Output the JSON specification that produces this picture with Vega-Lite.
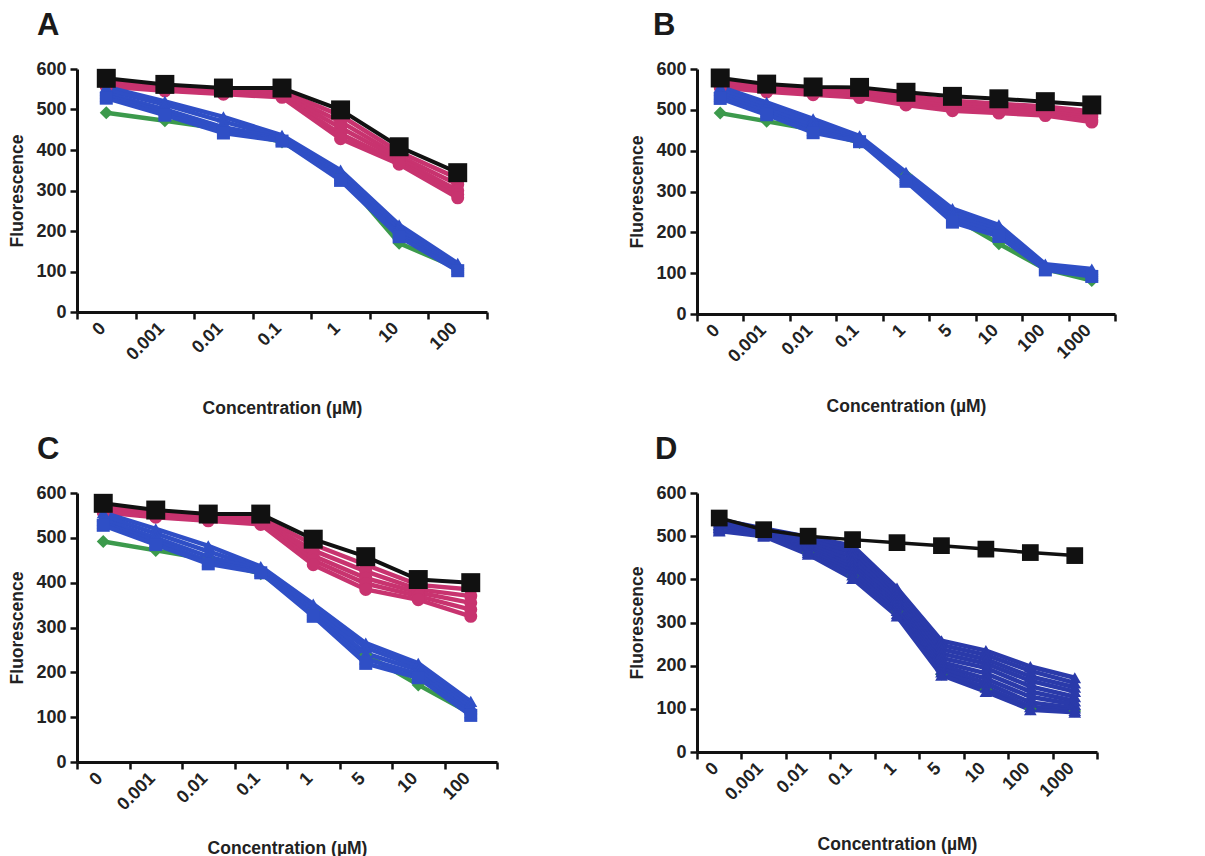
{
  "$schema": "https://vega.github.io/schema/vega-lite/v6.json",
  "padding": {"left": 8, "top": 10, "right": 5, "bottom": 0},
  "background": "white",
  "columns": 2,
  "bounds": "flush",
  "align": "each",
  "spacing": {"row": 179, "column": 200},
  "resolve": {"scale": {"x": "independent", "y": "independent"}},
  "config": {
    "view": {"stroke": null},
    "font": "Liberation Sans",
    "axis": {
      "grid": false,
      "domainColor": "#111111",
      "domainWidth": 3,
      "tickColor": "#111111",
      "tickWidth": 2.5,
      "tickSize": 7,
      "labelFont": "Liberation Sans",
      "labelFontWeight": "bold",
      "labelFontSize": 18,
      "labelColor": "#222222",
      "titleFont": "Liberation Sans",
      "titleFontWeight": "bold",
      "titleFontSize": 17.5,
      "titleColor": "#222222"
    },
    "axisY": {"titlePadding": 9, "labelPadding": 4},
    "axisX": {"labelPadding": 0, "labelOffset": -10},
    "title": {"font": "Liberation Sans", "fontSize": 31, "fontWeight": "bold", "color": "#1a1a1a", "anchor": "start", "frame": "group", "offset": 18}
  },
  "datasets": {
    "A": [
      {"c":"0","s":"P1","grp":"p","v":570},{"c":"0.001","s":"P1","grp":"p","v":555},{"c":"0.01","s":"P1","grp":"p","v":548},{"c":"0.1","s":"P1","grp":"p","v":545},{"c":"1","s":"P1","grp":"p","v":485},{"c":"10","s":"P1","grp":"p","v":395},{"c":"100","s":"P1","grp":"p","v":330},
      {"c":"0","s":"P2","grp":"p","v":566},{"c":"0.001","s":"P2","grp":"p","v":552},{"c":"0.01","s":"P2","grp":"p","v":545},{"c":"0.1","s":"P2","grp":"p","v":540},{"c":"1","s":"P2","grp":"p","v":470},{"c":"10","s":"P2","grp":"p","v":385},{"c":"100","s":"P2","grp":"p","v":315},
      {"c":"0","s":"P3","grp":"p","v":563},{"c":"0.001","s":"P3","grp":"p","v":550},{"c":"0.01","s":"P3","grp":"p","v":542},{"c":"0.1","s":"P3","grp":"p","v":537},{"c":"1","s":"P3","grp":"p","v":455},{"c":"10","s":"P3","grp":"p","v":378},{"c":"100","s":"P3","grp":"p","v":300},
      {"c":"0","s":"P4","grp":"p","v":560},{"c":"0.001","s":"P4","grp":"p","v":548},{"c":"0.01","s":"P4","grp":"p","v":540},{"c":"0.1","s":"P4","grp":"p","v":533},{"c":"1","s":"P4","grp":"p","v":440},{"c":"10","s":"P4","grp":"p","v":370},{"c":"100","s":"P4","grp":"p","v":290},
      {"c":"0","s":"P5","grp":"p","v":557},{"c":"0.001","s":"P5","grp":"p","v":546},{"c":"0.01","s":"P5","grp":"p","v":538},{"c":"0.1","s":"P5","grp":"p","v":530},{"c":"1","s":"P5","grp":"p","v":428},{"c":"10","s":"P5","grp":"p","v":365},{"c":"100","s":"P5","grp":"p","v":282},
      {"c":"0","s":"G1","grp":"g","v":492},{"c":"0.001","s":"G1","grp":"g","v":472},{"c":"0.01","s":"G1","grp":"g","v":452},{"c":"0.1","s":"G1","grp":"g","v":420},{"c":"1","s":"G1","grp":"g","v":338},{"c":"10","s":"G1","grp":"g","v":170},{"c":"100","s":"G1","grp":"g","v":108},
      {"c":"0","s":"B1","grp":"b","v":556},{"c":"0.001","s":"B1","grp":"b","v":520},{"c":"0.01","s":"B1","grp":"b","v":482},{"c":"0.1","s":"B1","grp":"b","v":436},{"c":"1","s":"B1","grp":"b","v":350},{"c":"10","s":"B1","grp":"b","v":215},{"c":"100","s":"B1","grp":"b","v":120},
      {"c":"0","s":"B2","grp":"b","v":548},{"c":"0.001","s":"B2","grp":"b","v":512},{"c":"0.01","s":"B2","grp":"b","v":470},{"c":"0.1","s":"B2","grp":"b","v":432},{"c":"1","s":"B2","grp":"b","v":345},{"c":"10","s":"B2","grp":"b","v":210},{"c":"100","s":"B2","grp":"b","v":116},
      {"c":"0","s":"B3","grp":"b","v":540},{"c":"0.001","s":"B3","grp":"b","v":500},{"c":"0.01","s":"B3","grp":"b","v":456},{"c":"0.1","s":"B3","grp":"b","v":428},{"c":"1","s":"B3","grp":"b","v":338},{"c":"10","s":"B3","grp":"b","v":200},{"c":"100","s":"B3","grp":"b","v":112},
      {"c":"0","s":"B4","grp":"b","v":534},{"c":"0.001","s":"B4","grp":"b","v":492},{"c":"0.01","s":"B4","grp":"b","v":448},{"c":"0.1","s":"B4","grp":"b","v":425},{"c":"1","s":"B4","grp":"b","v":330},{"c":"10","s":"B4","grp":"b","v":192},{"c":"100","s":"B4","grp":"b","v":106},
      {"c":"0","s":"S1","grp":"bs","v":528},{"c":"0.001","s":"S1","grp":"bs","v":486},{"c":"0.01","s":"S1","grp":"bs","v":442},{"c":"0.1","s":"S1","grp":"bs","v":422},{"c":"1","s":"S1","grp":"bs","v":325},{"c":"10","s":"S1","grp":"bs","v":186},{"c":"100","s":"S1","grp":"bs","v":102},
      {"c":"0","s":"K","grp":"ctrl","v":577},{"c":"0.001","s":"K","grp":"ctrl","v":562},{"c":"0.01","s":"K","grp":"ctrl","v":553},{"c":"0.1","s":"K","grp":"ctrl","v":553},{"c":"1","s":"K","grp":"ctrl","v":499},{"c":"10","s":"K","grp":"ctrl","v":408},{"c":"100","s":"K","grp":"ctrl","v":344}
    ],
    "B": [
      {"c":"0","s":"P1","grp":"p","v":570},{"c":"0.001","s":"P1","grp":"p","v":556},{"c":"0.01","s":"P1","grp":"p","v":550},{"c":"0.1","s":"P1","grp":"p","v":548},{"c":"1","s":"P1","grp":"p","v":535},{"c":"5","s":"P1","grp":"p","v":522},{"c":"10","s":"P1","grp":"p","v":515},{"c":"100","s":"P1","grp":"p","v":508},{"c":"1000","s":"P1","grp":"p","v":496},
      {"c":"0","s":"P2","grp":"p","v":566},{"c":"0.001","s":"P2","grp":"p","v":552},{"c":"0.01","s":"P2","grp":"p","v":546},{"c":"0.1","s":"P2","grp":"p","v":543},{"c":"1","s":"P2","grp":"p","v":528},{"c":"5","s":"P2","grp":"p","v":515},{"c":"10","s":"P2","grp":"p","v":508},{"c":"100","s":"P2","grp":"p","v":500},{"c":"1000","s":"P2","grp":"p","v":488},
      {"c":"0","s":"P3","grp":"p","v":562},{"c":"0.001","s":"P3","grp":"p","v":549},{"c":"0.01","s":"P3","grp":"p","v":543},{"c":"0.1","s":"P3","grp":"p","v":538},{"c":"1","s":"P3","grp":"p","v":522},{"c":"5","s":"P3","grp":"p","v":508},{"c":"10","s":"P3","grp":"p","v":502},{"c":"100","s":"P3","grp":"p","v":495},{"c":"1000","s":"P3","grp":"p","v":482},
      {"c":"0","s":"P4","grp":"p","v":558},{"c":"0.001","s":"P4","grp":"p","v":546},{"c":"0.01","s":"P4","grp":"p","v":540},{"c":"0.1","s":"P4","grp":"p","v":533},{"c":"1","s":"P4","grp":"p","v":516},{"c":"5","s":"P4","grp":"p","v":502},{"c":"10","s":"P4","grp":"p","v":496},{"c":"100","s":"P4","grp":"p","v":490},{"c":"1000","s":"P4","grp":"p","v":476},
      {"c":"0","s":"P5","grp":"p","v":555},{"c":"0.001","s":"P5","grp":"p","v":544},{"c":"0.01","s":"P5","grp":"p","v":537},{"c":"0.1","s":"P5","grp":"p","v":530},{"c":"1","s":"P5","grp":"p","v":512},{"c":"5","s":"P5","grp":"p","v":498},{"c":"10","s":"P5","grp":"p","v":492},{"c":"100","s":"P5","grp":"p","v":486},{"c":"1000","s":"P5","grp":"p","v":470},
      {"c":"0","s":"G1","grp":"g","v":492},{"c":"0.001","s":"G1","grp":"g","v":472},{"c":"0.01","s":"G1","grp":"g","v":452},{"c":"0.1","s":"G1","grp":"g","v":420},{"c":"1","s":"G1","grp":"g","v":340},{"c":"5","s":"G1","grp":"g","v":238},{"c":"10","s":"G1","grp":"g","v":172},{"c":"100","s":"G1","grp":"g","v":110},{"c":"1000","s":"G1","grp":"g","v":82},
      {"c":"0","s":"B1","grp":"b","v":556},{"c":"0.001","s":"B1","grp":"b","v":518},{"c":"0.01","s":"B1","grp":"b","v":478},{"c":"0.1","s":"B1","grp":"b","v":436},{"c":"1","s":"B1","grp":"b","v":347},{"c":"5","s":"B1","grp":"b","v":258},{"c":"10","s":"B1","grp":"b","v":218},{"c":"100","s":"B1","grp":"b","v":122},{"c":"1000","s":"B1","grp":"b","v":110},
      {"c":"0","s":"B2","grp":"b","v":548},{"c":"0.001","s":"B2","grp":"b","v":510},{"c":"0.01","s":"B2","grp":"b","v":470},{"c":"0.1","s":"B2","grp":"b","v":432},{"c":"1","s":"B2","grp":"b","v":340},{"c":"5","s":"B2","grp":"b","v":250},{"c":"10","s":"B2","grp":"b","v":212},{"c":"100","s":"B2","grp":"b","v":118},{"c":"1000","s":"B2","grp":"b","v":105},
      {"c":"0","s":"B3","grp":"b","v":540},{"c":"0.001","s":"B3","grp":"b","v":502},{"c":"0.01","s":"B3","grp":"b","v":460},{"c":"0.1","s":"B3","grp":"b","v":428},{"c":"1","s":"B3","grp":"b","v":335},{"c":"5","s":"B3","grp":"b","v":240},{"c":"10","s":"B3","grp":"b","v":205},{"c":"100","s":"B3","grp":"b","v":115},{"c":"1000","s":"B3","grp":"b","v":100},
      {"c":"0","s":"B4","grp":"b","v":533},{"c":"0.001","s":"B4","grp":"b","v":495},{"c":"0.01","s":"B4","grp":"b","v":450},{"c":"0.1","s":"B4","grp":"b","v":425},{"c":"1","s":"B4","grp":"b","v":330},{"c":"5","s":"B4","grp":"b","v":232},{"c":"10","s":"B4","grp":"b","v":198},{"c":"100","s":"B4","grp":"b","v":112},{"c":"1000","s":"B4","grp":"b","v":96},
      {"c":"0","s":"S1","grp":"bs","v":528},{"c":"0.001","s":"S1","grp":"bs","v":488},{"c":"0.01","s":"S1","grp":"bs","v":444},{"c":"0.1","s":"S1","grp":"bs","v":422},{"c":"1","s":"S1","grp":"bs","v":325},{"c":"5","s":"S1","grp":"bs","v":225},{"c":"10","s":"S1","grp":"bs","v":190},{"c":"100","s":"S1","grp":"bs","v":108},{"c":"1000","s":"S1","grp":"bs","v":92},
      {"c":"0","s":"K","grp":"ctrl","v":578},{"c":"0.001","s":"K","grp":"ctrl","v":563},{"c":"0.01","s":"K","grp":"ctrl","v":556},{"c":"0.1","s":"K","grp":"ctrl","v":555},{"c":"1","s":"K","grp":"ctrl","v":543},{"c":"5","s":"K","grp":"ctrl","v":533},{"c":"10","s":"K","grp":"ctrl","v":527},{"c":"100","s":"K","grp":"ctrl","v":520},{"c":"1000","s":"K","grp":"ctrl","v":512}
    ],
    "C": [
      {"c":"0","s":"P1","grp":"p","v":570},{"c":"0.001","s":"P1","grp":"p","v":555},{"c":"0.01","s":"P1","grp":"p","v":548},{"c":"0.1","s":"P1","grp":"p","v":545},{"c":"1","s":"P1","grp":"p","v":485},{"c":"5","s":"P1","grp":"p","v":440},{"c":"10","s":"P1","grp":"p","v":395},{"c":"100","s":"P1","grp":"p","v":385},
      {"c":"0","s":"P2","grp":"p","v":566},{"c":"0.001","s":"P2","grp":"p","v":552},{"c":"0.01","s":"P2","grp":"p","v":545},{"c":"0.1","s":"P2","grp":"p","v":540},{"c":"1","s":"P2","grp":"p","v":472},{"c":"5","s":"P2","grp":"p","v":425},{"c":"10","s":"P2","grp":"p","v":385},{"c":"100","s":"P2","grp":"p","v":370},
      {"c":"0","s":"P3","grp":"p","v":563},{"c":"0.001","s":"P3","grp":"p","v":550},{"c":"0.01","s":"P3","grp":"p","v":542},{"c":"0.1","s":"P3","grp":"p","v":537},{"c":"1","s":"P3","grp":"p","v":460},{"c":"5","s":"P3","grp":"p","v":410},{"c":"10","s":"P3","grp":"p","v":378},{"c":"100","s":"P3","grp":"p","v":355},
      {"c":"0","s":"P4","grp":"p","v":560},{"c":"0.001","s":"P4","grp":"p","v":548},{"c":"0.01","s":"P4","grp":"p","v":540},{"c":"0.1","s":"P4","grp":"p","v":533},{"c":"1","s":"P4","grp":"p","v":450},{"c":"5","s":"P4","grp":"p","v":398},{"c":"10","s":"P4","grp":"p","v":370},{"c":"100","s":"P4","grp":"p","v":340},
      {"c":"0","s":"P5","grp":"p","v":557},{"c":"0.001","s":"P5","grp":"p","v":546},{"c":"0.01","s":"P5","grp":"p","v":538},{"c":"0.1","s":"P5","grp":"p","v":530},{"c":"1","s":"P5","grp":"p","v":440},{"c":"5","s":"P5","grp":"p","v":385},{"c":"10","s":"P5","grp":"p","v":362},{"c":"100","s":"P5","grp":"p","v":325},
      {"c":"0","s":"G1","grp":"g","v":492},{"c":"0.001","s":"G1","grp":"g","v":472},{"c":"0.01","s":"G1","grp":"g","v":452},{"c":"0.1","s":"G1","grp":"g","v":420},{"c":"1","s":"G1","grp":"g","v":338},{"c":"5","s":"G1","grp":"g","v":240},{"c":"10","s":"G1","grp":"g","v":172},{"c":"100","s":"G1","grp":"g","v":108},
      {"c":"0","s":"B1","grp":"b","v":556},{"c":"0.001","s":"B1","grp":"b","v":520},{"c":"0.01","s":"B1","grp":"b","v":482},{"c":"0.1","s":"B1","grp":"b","v":436},{"c":"1","s":"B1","grp":"b","v":352},{"c":"5","s":"B1","grp":"b","v":265},{"c":"10","s":"B1","grp":"b","v":220},{"c":"100","s":"B1","grp":"b","v":135},
      {"c":"0","s":"B2","grp":"b","v":548},{"c":"0.001","s":"B2","grp":"b","v":510},{"c":"0.01","s":"B2","grp":"b","v":470},{"c":"0.1","s":"B2","grp":"b","v":432},{"c":"1","s":"B2","grp":"b","v":345},{"c":"5","s":"B2","grp":"b","v":255},{"c":"10","s":"B2","grp":"b","v":212},{"c":"100","s":"B2","grp":"b","v":126},
      {"c":"0","s":"B3","grp":"b","v":540},{"c":"0.001","s":"B3","grp":"b","v":500},{"c":"0.01","s":"B3","grp":"b","v":458},{"c":"0.1","s":"B3","grp":"b","v":428},{"c":"1","s":"B3","grp":"b","v":338},{"c":"5","s":"B3","grp":"b","v":242},{"c":"10","s":"B3","grp":"b","v":205},{"c":"100","s":"B3","grp":"b","v":118},
      {"c":"0","s":"B4","grp":"b","v":533},{"c":"0.001","s":"B4","grp":"b","v":492},{"c":"0.01","s":"B4","grp":"b","v":448},{"c":"0.1","s":"B4","grp":"b","v":425},{"c":"1","s":"B4","grp":"b","v":330},{"c":"5","s":"B4","grp":"b","v":230},{"c":"10","s":"B4","grp":"b","v":196},{"c":"100","s":"B4","grp":"b","v":110},
      {"c":"0","s":"S1","grp":"bs","v":528},{"c":"0.001","s":"S1","grp":"bs","v":485},{"c":"0.01","s":"S1","grp":"bs","v":442},{"c":"0.1","s":"S1","grp":"bs","v":422},{"c":"1","s":"S1","grp":"bs","v":325},{"c":"5","s":"S1","grp":"bs","v":220},{"c":"10","s":"S1","grp":"bs","v":188},{"c":"100","s":"S1","grp":"bs","v":104},
      {"c":"0","s":"K","grp":"ctrl","v":577},{"c":"0.001","s":"K","grp":"ctrl","v":562},{"c":"0.01","s":"K","grp":"ctrl","v":553},{"c":"0.1","s":"K","grp":"ctrl","v":553},{"c":"1","s":"K","grp":"ctrl","v":497},{"c":"5","s":"K","grp":"ctrl","v":458},{"c":"10","s":"K","grp":"ctrl","v":407},{"c":"100","s":"K","grp":"ctrl","v":400}
    ],
    "D": [
      {"c":"0","s":"G1","grp":"gd","v":515},{"c":"0.001","s":"G1","grp":"gd","v":505},{"c":"0.01","s":"G1","grp":"gd","v":462},{"c":"0.1","s":"G1","grp":"gd","v":408},{"c":"1","s":"G1","grp":"gd","v":325},{"c":"5","s":"G1","grp":"gd","v":180},{"c":"10","s":"G1","grp":"gd","v":145},{"c":"100","s":"G1","grp":"gd","v":100},{"c":"1000","s":"G1","grp":"gd","v":95},
      {"c":"0","s":"D1","grp":"bd","v":538},{"c":"0.001","s":"D1","grp":"bd","v":518},{"c":"0.01","s":"D1","grp":"bd","v":498},{"c":"0.1","s":"D1","grp":"bd","v":478},{"c":"1","s":"D1","grp":"bd","v":380},{"c":"5","s":"D1","grp":"bd","v":258},{"c":"10","s":"D1","grp":"bd","v":235},{"c":"100","s":"D1","grp":"bd","v":198},{"c":"1000","s":"D1","grp":"bd","v":172},
      {"c":"0","s":"D2","grp":"bd","v":535},{"c":"0.001","s":"D2","grp":"bd","v":516},{"c":"0.01","s":"D2","grp":"bd","v":495},{"c":"0.1","s":"D2","grp":"bd","v":470},{"c":"1","s":"D2","grp":"bd","v":372},{"c":"5","s":"D2","grp":"bd","v":248},{"c":"10","s":"D2","grp":"bd","v":225},{"c":"100","s":"D2","grp":"bd","v":188},{"c":"1000","s":"D2","grp":"bd","v":160},
      {"c":"0","s":"D3","grp":"bd","v":532},{"c":"0.001","s":"D3","grp":"bd","v":514},{"c":"0.01","s":"D3","grp":"bd","v":490},{"c":"0.1","s":"D3","grp":"bd","v":462},{"c":"1","s":"D3","grp":"bd","v":365},{"c":"5","s":"D3","grp":"bd","v":238},{"c":"10","s":"D3","grp":"bd","v":215},{"c":"100","s":"D3","grp":"bd","v":175},{"c":"1000","s":"D3","grp":"bd","v":150},
      {"c":"0","s":"D4","grp":"bd","v":528},{"c":"0.001","s":"D4","grp":"bd","v":512},{"c":"0.01","s":"D4","grp":"bd","v":485},{"c":"0.1","s":"D4","grp":"bd","v":452},{"c":"1","s":"D4","grp":"bd","v":358},{"c":"5","s":"D4","grp":"bd","v":228},{"c":"10","s":"D4","grp":"bd","v":205},{"c":"100","s":"D4","grp":"bd","v":165},{"c":"1000","s":"D4","grp":"bd","v":140},
      {"c":"0","s":"D5","grp":"bd","v":525},{"c":"0.001","s":"D5","grp":"bd","v":510},{"c":"0.01","s":"D5","grp":"bd","v":480},{"c":"0.1","s":"D5","grp":"bd","v":442},{"c":"1","s":"D5","grp":"bd","v":350},{"c":"5","s":"D5","grp":"bd","v":218},{"c":"10","s":"D5","grp":"bd","v":195},{"c":"100","s":"D5","grp":"bd","v":152},{"c":"1000","s":"D5","grp":"bd","v":128},
      {"c":"0","s":"D6","grp":"bd","v":522},{"c":"0.001","s":"D6","grp":"bd","v":508},{"c":"0.01","s":"D6","grp":"bd","v":475},{"c":"0.1","s":"D6","grp":"bd","v":432},{"c":"1","s":"D6","grp":"bd","v":342},{"c":"5","s":"D6","grp":"bd","v":208},{"c":"10","s":"D6","grp":"bd","v":182},{"c":"100","s":"D6","grp":"bd","v":140},{"c":"1000","s":"D6","grp":"bd","v":118},
      {"c":"0","s":"D7","grp":"bd","v":520},{"c":"0.001","s":"D7","grp":"bd","v":506},{"c":"0.01","s":"D7","grp":"bd","v":470},{"c":"0.1","s":"D7","grp":"bd","v":425},{"c":"1","s":"D7","grp":"bd","v":335},{"c":"5","s":"D7","grp":"bd","v":200},{"c":"10","s":"D7","grp":"bd","v":170},{"c":"100","s":"D7","grp":"bd","v":128},{"c":"1000","s":"D7","grp":"bd","v":110},
      {"c":"0","s":"D8","grp":"bd","v":517},{"c":"0.001","s":"D8","grp":"bd","v":504},{"c":"0.01","s":"D8","grp":"bd","v":466},{"c":"0.1","s":"D8","grp":"bd","v":418},{"c":"1","s":"D8","grp":"bd","v":328},{"c":"5","s":"D8","grp":"bd","v":192},{"c":"10","s":"D8","grp":"bd","v":160},{"c":"100","s":"D8","grp":"bd","v":115},{"c":"1000","s":"D8","grp":"bd","v":102},
      {"c":"0","s":"D9","grp":"bd","v":514},{"c":"0.001","s":"D9","grp":"bd","v":502},{"c":"0.01","s":"D9","grp":"bd","v":462},{"c":"0.1","s":"D9","grp":"bd","v":410},{"c":"1","s":"D9","grp":"bd","v":320},{"c":"5","s":"D9","grp":"bd","v":185},{"c":"10","s":"D9","grp":"bd","v":150},{"c":"100","s":"D9","grp":"bd","v":105},{"c":"1000","s":"D9","grp":"bd","v":96},
      {"c":"0","s":"D10","grp":"bd","v":512},{"c":"0.001","s":"D10","grp":"bd","v":500},{"c":"0.01","s":"D10","grp":"bd","v":458},{"c":"0.1","s":"D10","grp":"bd","v":402},{"c":"1","s":"D10","grp":"bd","v":315},{"c":"5","s":"D10","grp":"bd","v":178},{"c":"10","s":"D10","grp":"bd","v":140},{"c":"100","s":"D10","grp":"bd","v":98},{"c":"1000","s":"D10","grp":"bd","v":92},
      {"c":"0","s":"K","grp":"ctrl","v":542},{"c":"0.001","s":"K","grp":"ctrl","v":515},{"c":"0.01","s":"K","grp":"ctrl","v":500},{"c":"0.1","s":"K","grp":"ctrl","v":492},{"c":"1","s":"K","grp":"ctrl","v":485},{"c":"5","s":"K","grp":"ctrl","v":478},{"c":"10","s":"K","grp":"ctrl","v":470},{"c":"100","s":"K","grp":"ctrl","v":462},{"c":"1000","s":"K","grp":"ctrl","v":455}
    ]
  },
  "concat": [
    {
      "width": 410, "height": 243,
      "title": {"text": "A", "dx": -40},
      "data": {"name": "A"},
      "encoding": {
        "x": {"field": "c", "type": "nominal", "sort": ["0","0.001","0.01","0.1","1","10","100"], "scale": {"type": "band", "paddingInner": 0, "paddingOuter": 0}, "axis": {"title": "Concentration (µM)", "tickBand": "extent", "labelAngle": -45, "titlePadding": 36}},
        "y": {"field": "v", "type": "quantitative", "scale": {"domain": [0, 600]}, "axis": {"title": "Fluorescence", "values": [0,100,200,300,400,500,600]}},
        "order": {"value": null}
      },
      "layer": [
        {"transform": [{"filter": "datum.grp !== 'ctrl'"}], "mark": {"type": "line", "strokeWidth": 4.5}, "encoding": {"color": {"field": "grp", "type": "nominal", "scale": {"domain": ["p","b","bs","g","bd","gd"], "range": ["#c8336f","#2f4fc6","#2f4fc6","#3c9a4c","#2a3aaa","#2f8a4a"]}, "legend": null}, "detail": {"field": "s"}}},
        {"transform": [{"filter": "datum.grp !== 'ctrl'"}], "mark": {"type": "point", "filled": true, "opacity": 1, "size": 170}, "encoding": {"color": {"field": "grp", "type": "nominal", "legend": null}, "shape": {"field": "grp", "type": "nominal", "scale": {"domain": ["p","b","bs","g","bd","gd"], "range": ["circle","triangle-up","square","diamond","triangle-up","diamond"]}, "legend": null}}},
        {"transform": [{"filter": "datum.grp === 'ctrl'"}], "mark": {"type": "line", "strokeWidth": 4, "color": "#111111"}},
        {"transform": [{"filter": "datum.grp === 'ctrl'"}], "mark": {"type": "point", "filled": true, "opacity": 1, "shape": "square", "size": 360, "color": "#111111"}}
      ]
    },
    {
      "width": 418, "height": 245,
      "title": {"text": "B", "dx": -44},
      "data": {"name": "B"},
      "encoding": {
        "x": {"field": "c", "type": "nominal", "sort": ["0","0.001","0.01","0.1","1","5","10","100","1000"], "scale": {"type": "band", "paddingInner": 0, "paddingOuter": 0}, "axis": {"title": "Concentration (µM)", "tickBand": "extent", "labelAngle": -45, "titlePadding": 32}},
        "y": {"field": "v", "type": "quantitative", "scale": {"domain": [0, 600]}, "axis": {"title": "Fluorescence", "values": [0,100,200,300,400,500,600]}},
        "order": {"value": null}
      },
      "layer": [
        {"transform": [{"filter": "datum.grp !== 'ctrl'"}], "mark": {"type": "line", "strokeWidth": 4.5}, "encoding": {"color": {"field": "grp", "type": "nominal", "legend": null}, "detail": {"field": "s"}}},
        {"transform": [{"filter": "datum.grp !== 'ctrl'"}], "mark": {"type": "point", "filled": true, "opacity": 1, "size": 170}, "encoding": {"color": {"field": "grp", "type": "nominal", "legend": null}, "shape": {"field": "grp", "type": "nominal", "legend": null}}},
        {"transform": [{"filter": "datum.grp === 'ctrl'"}], "mark": {"type": "line", "strokeWidth": 4, "color": "#111111"}},
        {"transform": [{"filter": "datum.grp === 'ctrl'"}], "mark": {"type": "point", "filled": true, "opacity": 1, "shape": "square", "size": 360, "color": "#111111"}}
      ]
    },
    {
      "width": 420, "height": 269,
      "title": {"text": "C", "dx": -40},
      "data": {"name": "C"},
      "encoding": {
        "x": {"field": "c", "type": "nominal", "sort": ["0","0.001","0.01","0.1","1","5","10","100"], "scale": {"type": "band", "paddingInner": 0, "paddingOuter": 0}, "axis": {"title": "Concentration (µM)", "tickBand": "extent", "labelAngle": -45, "titlePadding": 26}},
        "y": {"field": "v", "type": "quantitative", "scale": {"domain": [0, 600]}, "axis": {"title": "Fluorescence", "values": [0,100,200,300,400,500,600]}},
        "order": {"value": null}
      },
      "layer": [
        {"transform": [{"filter": "datum.grp !== 'ctrl'"}], "mark": {"type": "line", "strokeWidth": 4.5}, "encoding": {"color": {"field": "grp", "type": "nominal", "legend": null}, "detail": {"field": "s"}}},
        {"transform": [{"filter": "datum.grp !== 'ctrl'"}], "mark": {"type": "point", "filled": true, "opacity": 1, "size": 170}, "encoding": {"color": {"field": "grp", "type": "nominal", "legend": null}, "shape": {"field": "grp", "type": "nominal", "legend": null}}},
        {"transform": [{"filter": "datum.grp === 'ctrl'"}], "mark": {"type": "line", "strokeWidth": 4, "color": "#111111"}},
        {"transform": [{"filter": "datum.grp === 'ctrl'"}], "mark": {"type": "point", "filled": true, "opacity": 1, "shape": "square", "size": 360, "color": "#111111"}}
      ]
    },
    {
      "width": 400, "height": 259,
      "title": {"text": "D", "dx": -42},
      "data": {"name": "D"},
      "encoding": {
        "x": {"field": "c", "type": "nominal", "sort": ["0","0.001","0.01","0.1","1","5","10","100","1000"], "scale": {"type": "band", "paddingInner": 0, "paddingOuter": 0}, "axis": {"title": "Concentration (µM)", "tickBand": "extent", "labelAngle": -45, "titlePadding": 32}},
        "y": {"field": "v", "type": "quantitative", "scale": {"domain": [0, 600]}, "axis": {"title": "Fluorescence", "values": [0,100,200,300,400,500,600]}},
        "order": {"value": null}
      },
      "layer": [
        {"transform": [{"filter": "datum.grp !== 'ctrl'"}], "mark": {"type": "line", "strokeWidth": 4.5}, "encoding": {"color": {"field": "grp", "type": "nominal", "legend": null}, "detail": {"field": "s"}}},
        {"transform": [{"filter": "datum.grp !== 'ctrl'"}], "mark": {"type": "point", "filled": true, "opacity": 1, "size": 160}, "encoding": {"color": {"field": "grp", "type": "nominal", "legend": null}, "shape": {"field": "grp", "type": "nominal", "legend": null}}},
        {"transform": [{"filter": "datum.grp === 'ctrl'"}], "mark": {"type": "line", "strokeWidth": 3.5, "color": "#111111"}},
        {"transform": [{"filter": "datum.grp === 'ctrl'"}], "mark": {"type": "point", "filled": true, "opacity": 1, "shape": "square", "size": 280, "color": "#111111"}}
      ]
    }
  ]
}
